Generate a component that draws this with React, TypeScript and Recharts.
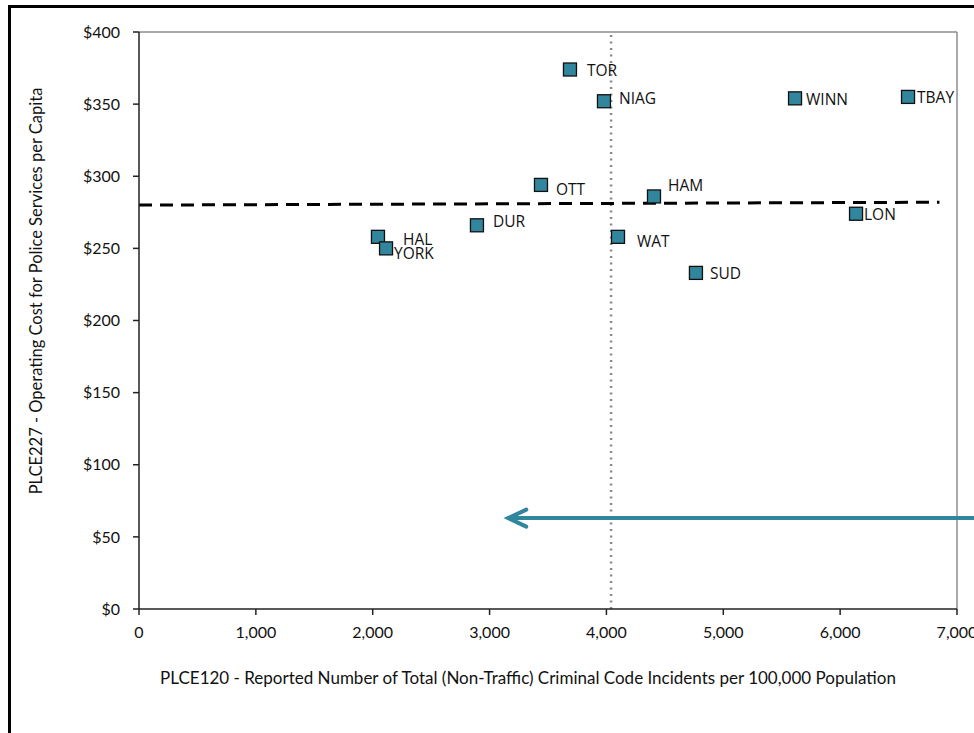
import React from "react"
import { ScatterChart, Scatter, XAxis, YAxis, ReferenceLine, Label } from "recharts"

// municipalities, crime incidents per 100k and police cost per capita
const cities = ["TOR", "NIAG", "OTT", "HAM", "DUR", "HAL", "YORK", "WAT", "SUD", "WINN", "TBAY", "LON"]
const incidents = [3688, 3979, 3440, 4407, 2892, 2045, 2114, 4099, 4766, 5614, 6581, 6136]
const costPerCapita = [374, 352, 294, 286, 266, 258, 250, 258, 233, 354, 355, 274]

const xTicks = [0, 1000, 2000, 3000, 4000, 5000, 6000, 7000]
const yTicks = [0, 50, 100, 150, 200, 250, 300, 350, 400]

// dashed average cost line (start, end) and dotted median incident line
const avgLineX = [0, 6850]
const avgLineY = [280, 282]
const medianIncidents = 4040

// arrow annotation (from right edge towards lower crime)
const arrowX = [7200, 3160]
const arrowY = 63

// label placement relative to marker centre
const labelOffset: Record<string, [number, number]> = {
  TOR: [17, 0],
  NIAG: [15, -3],
  OTT: [15, 4],
  HAM: [14, -11],
  DUR: [16, -4],
  HAL: [25, 2],
  YORK: [8, 5],
  WAT: [19, 4],
  SUD: [14, 0],
  WINN: [11, 1],
  TBAY: [9, 0],
  LON: [8, 0],
}

const data = cities.map((name, i) => ({ name, x: incidents[i], y: costPerCapita[i] }))

const teal = "#31859C"
const tickFont = { fontFamily: "Lato", fontSize: 16, fill: "#111" }

const Square = (props: any) => {
  const { cx, cy, payload } = props
  const [dx, dy] = labelOffset[payload.name] || [12, 0]
  return (
    <g>
      <rect x={cx - 6.5} y={cy - 6.5} width={13} height={13} fill={teal} stroke="#111" strokeWidth={1.3} />
      <text
        x={cx + dx}
        y={cy + dy}
        dominantBaseline="central"
        fontFamily="Open Sans"
        fontSize={15.5}
        fill="#111"
      >
        {payload.name}
      </text>
    </g>
  )
}

const Arrow = (props: any) => {
  const { x1, y1, x2, y2 } = props
  return (
    <g>
      <line x1={x1} y1={y1} x2={x2 + 2} y2={y2} stroke={teal} strokeWidth={4} />
      <polyline
        points={`${x2 + 18},${y2 - 8.5} ${x2},${y2} ${x2 + 18},${y2 + 8.5}`}
        fill="none"
        stroke={teal}
        strokeWidth={4}
        strokeLinecap="round"
        strokeLinejoin="miter"
      />
    </g>
  )
}

export default function App() {
  return (
    <div
      style={{
        position: "absolute",
        left: 8,
        top: 5,
        width: 966,
        height: 728,
        boxSizing: "border-box",
        borderLeft: "3px solid #000",
        borderTop: "3px solid #000",
        overflow: "hidden",
        background: "#fff",
      }}
    >
      <ScatterChart width={963} height={725} margin={{ top: 24, right: 17, bottom: 0, left: 0 }}>
        <XAxis
          type="number"
          dataKey="x"
          domain={[0, 7000]}
          ticks={xTicks}
          interval={0}
          tickFormatter={(v: number) => v.toLocaleString("en-US")}
          tick={tickFont}
          tickMargin={12}
          height={124}
          stroke="#222"
          strokeWidth={1.5}
        >
          <Label
            content={() => (
              <text x={517} y={669} textAnchor="middle" dominantBaseline="central" fontFamily="Lato" fontSize={17} fill="#111">
                PLCE120 - Reported Number of Total (Non-Traffic) Criminal Code Incidents per 100,000 Population
              </text>
            )}
          />
        </XAxis>
        <YAxis
          type="number"
          dataKey="y"
          domain={[0, 400]}
          ticks={yTicks}
          interval={0}
          tickFormatter={(v: number) => `$${v}`}
          tick={tickFont}
          tickMargin={13}
          width={128}
          stroke="#222"
          strokeWidth={1.5}
        >
          <Label
            content={() => (
              <text
                x={25}
                y={283}
                textAnchor="middle"
                dominantBaseline="central"
                transform="rotate(-90 25 283)"
                fontFamily="Lato"
                fontSize={16.5}
                fill="#111"
              >
                PLCE227 - Operating Cost for Police Services per Capita
              </text>
            )}
          />
        </YAxis>
        <ReferenceLine y={400} stroke="#8c8c8c" strokeWidth={1.5} />
        <ReferenceLine x={7000} stroke="#8c8c8c" strokeWidth={1.5} />
        <ReferenceLine x={medianIncidents} stroke="#8a8a8a" strokeWidth={2.5} strokeDasharray="2 4.5" />
        <ReferenceLine
          segment={[
            { x: avgLineX[0], y: avgLineY[0] },
            { x: avgLineX[1], y: avgLineY[1] },
          ]}
          stroke="#000"
          strokeWidth={3}
          strokeDasharray="13 8"
        />
        <ReferenceLine
          segment={[
            { x: arrowX[0], y: arrowY },
            { x: arrowX[1], y: arrowY },
          ]}
          ifOverflow="visible"
          shape={Arrow}
        />
        <Scatter data={data} shape={Square} isAnimationActive={false} />
      </ScatterChart>
    </div>
  )
}
